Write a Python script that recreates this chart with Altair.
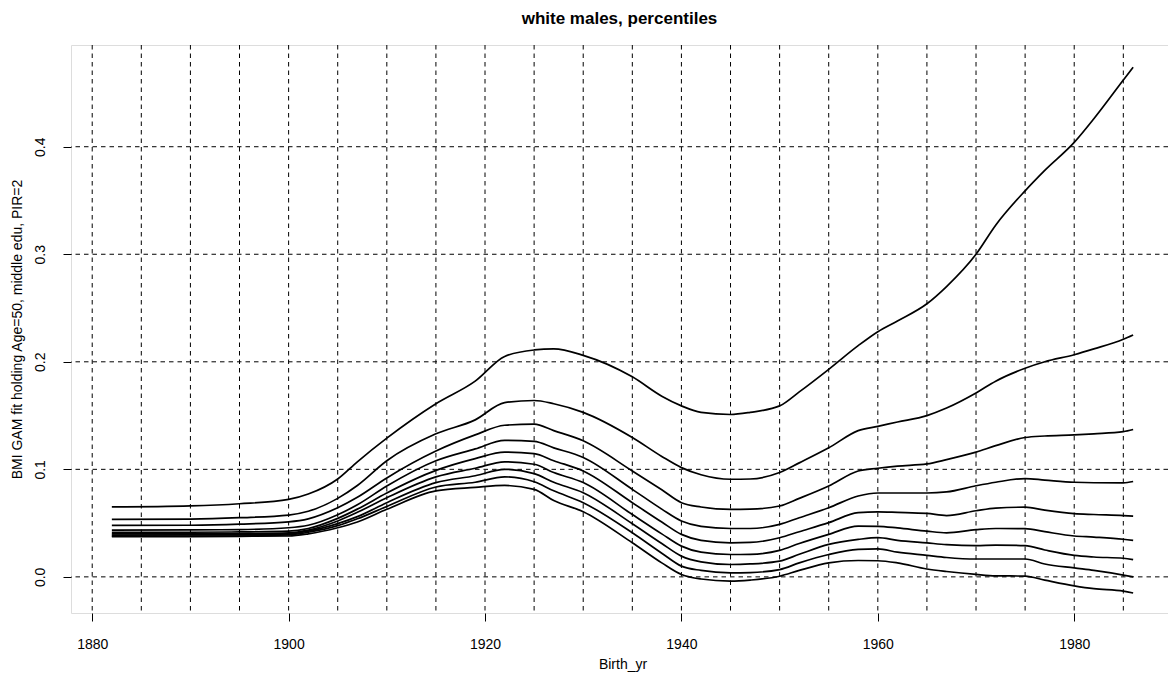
import altair as alt
import pandas as pd

# ---- data ----
years = [1882, 1890, 1895, 1900, 1902, 1905, 1907, 1910, 1915, 1919, 1922, 1925,
         1927, 1930, 1935, 1938, 1940, 1942, 1945, 1947, 1950, 1952, 1955, 1958,
         1960, 1962, 1965, 1967, 1970, 1972, 1975, 1977, 1980, 1982, 1985, 1986]

p90 = [.065, .066, .068, .072, .077, .091, .107, .129, .161, .182, .205, .211,
       .212, .206, .186, .168, .159, .153, .151, .153, .159, .172, .193, .215,
       .228, .238, .254, .270, .300, .327, .359, .378, .404, .426, .462, .474]
p80 = [.0534, .0537, .055, .0575, .061, .073, .085, .108, .133, .146, .162, .164,
       .161, .153, .1296, .112, .1016, .095, .0908, .091, .097, .106, .120, .136,
       .140, .144, .150, .157, .171, .182, .194, .200, .2066, .212, .221, .225]
p70 = [.0478, .048, .049, .0512, .054, .0643, .074, .092, .117, .132, .141, .142,
       .136, .1265, .0985, .081, .069, .065, .0628, .063, .0659, .073, .0845, .0985,
       .101, .103, .105, .109, .116, .122, .1296, .131, .132, .133, .135, .137]
p60 = [.0435, .0437, .044, .0457, .048, .0578, .067, .0845, .108, .119, .127, .126,
       .120, .111, .0814, .063, .052, .047, .045, .045, .0488, .055, .0643, .0752,
       .078, .078, .078, .079, .0847, .088, .0914, .090, .088, .0875, .0874, .0887]
p50 = [.0413, .0415, .0418, .0425, .045, .0544, .063, .078, .099, .110, .116, .1146,
       .108, .0985, .069, .051, .0395, .034, .0317, .032, .0364, .042, .0504, .0597,
       .0605, .060, .059, .057, .0615, .064, .0648, .062, .0588, .058, .057, .0565]
p40 = [.040, .040, .0403, .041, .0435, .052, .060, .0736, .093, .101, .107, .1047,
       .097, .0877, .058, .040, .0286, .023, .0208, .021, .0246, .031, .0395, .0472,
       .047, .0455, .0425, .041, .0439, .045, .0449, .042, .038, .037, .035, .0339]
p30 = [.0388, .039, .039, .040, .0425, .0495, .056, .069, .0876, .094, .100, .096,
       .088, .0783, .0494, .031, .0193, .014, .0115, .012, .0146, .021, .0302, .0348,
       .0365, .034, .0316, .030, .029, .0295, .029, .025, .020, .0185, .0173, .016]
p20 = [.0379, .038, .038, .039, .0415, .0476, .054, .0655, .0836, .088, .093, .0885,
       .080, .069, .041, .022, .010, .006, .0037, .004, .0068, .013, .0208, .0255,
       .026, .023, .020, .018, .0166, .0166, .0166, .012, .0083, .006, .0017, 0.0]
p10 = [.0373, .0375, .0377, .038, .040, .0457, .051, .0628, .080, .0832, .085, .0814,
       .071, .0606, .0317, .013, .0022, -.002, -.004, -.003, .0006, .006, .013, .0152,
       .015, .013, .0073, .005, .0023, .001, .0007, -.003, -.0083, -.011, -.0133, -.015]

series = {"p90": p90, "p80": p80, "p70": p70, "p60": p60, "p50": p50,
          "p40": p40, "p30": p30, "p20": p20, "p10": p10}

x_ticks = [1880, 1900, 1920, 1940, 1960, 1980]
y_ticks = [0.0, 0.1, 0.2, 0.3, 0.4]
x_grid = [1880, 1885, 1890, 1895, 1900, 1905, 1910, 1915, 1920, 1925, 1930,
          1935, 1940, 1945, 1950, 1955, 1960, 1965, 1970, 1975, 1980, 1985]
y_grid = [0.0, 0.1, 0.2, 0.3, 0.4]

rows = []
for name, vals in series.items():
    for yr, v in zip(years, vals):
        rows.append({"series": name, "Birth_yr": yr, "fit": v})
df = pd.DataFrame(rows)

FONT = "Liberation Sans"
W, H = 1097, 568
FS = 14

x_scale = alt.Scale(domain=[1877.84, 1989.55], nice=False, zero=False)
y_scale = alt.Scale(domain=[-0.0336, 0.4946], nice=False, zero=False)

x_axis = alt.Axis(values=x_ticks, format="d", title="Birth_yr", grid=False,
                  domain=False, tickSize=8, tickColor="black", tickWidth=1,
                  labelFont=FONT, labelFontSize=FS, labelColor="black",
                  labelBaseline="alphabetic", labelPadding=27,
                  titleFont=FONT, titleFontSize=FS, titleFontWeight="normal",
                  titleColor="black", titleBaseline="alphabetic",
                  titleX=W / 2 + 3, titleY=55, titleAlign="center")
y_axis = alt.Axis(values=y_ticks, format=".1f",
                  title="BMI GAM fit holding Age=50, middle edu, PIR=2",
                  grid=False, domain=False, tickSize=8, tickColor="black",
                  tickWidth=1, labelFont=FONT, labelFontSize=FS,
                  labelColor="black", labelAngle=270, labelAlign="center",
                  labelBaseline="alphabetic", labelPadding=19,
                  titleFont=FONT, titleFontSize=FS, titleFontWeight="normal",
                  titleColor="black", titleAngle=270, titleAlign="center",
                  titleBaseline="alphabetic", titleX=-50, titleY=H / 2)

vgrid = alt.Chart(pd.DataFrame({"Birth_yr": x_grid})).mark_rule(
    color="black", strokeWidth=1, strokeDash=[4.5, 4]
).encode(x=alt.X("Birth_yr:Q", scale=x_scale, axis=x_axis))

hgrid = alt.Chart(pd.DataFrame({"fit": y_grid})).mark_rule(
    color="black", strokeWidth=1, strokeDash=[4.5, 4]
).encode(y=alt.Y("fit:Q", scale=y_scale, axis=y_axis))

lines = alt.Chart(df).mark_line(
    color="black", strokeWidth=1.7, interpolate="monotone"
).encode(
    x=alt.X("Birth_yr:Q", scale=x_scale, axis=x_axis),
    y=alt.Y("fit:Q", scale=y_scale, axis=y_axis),
    detail="series:N",
)

chart = alt.layer(vgrid, hgrid, lines).properties(
    width=W, height=H,
    title=alt.TitleParams("white males, percentiles", font=FONT, fontSize=17,
                          fontWeight="bold", color="black", anchor="middle",
                          baseline="alphabetic", offset=4),
    autosize=alt.AutoSizeParams(type="none"),
    padding={"left": 63, "top": 37, "right": 0, "bottom": 60},
).configure_view(stroke="black", strokeWidth=1).configure(background="white")

chart.save("out.html", embed_options={"renderer": "svg", "actions": False})
